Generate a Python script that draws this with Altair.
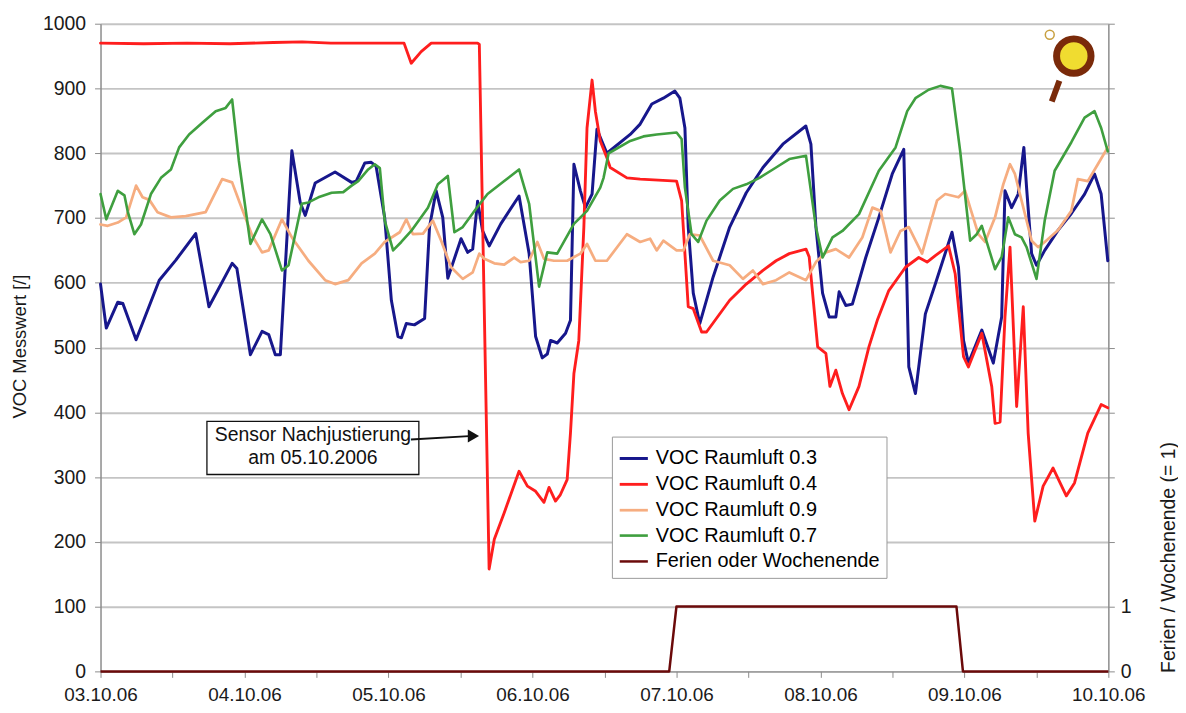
import altair as alt
import pandas as pd

# ---------------- data ----------------
tick_labels = ["03.10.06", "04.10.06", "05.10.06", "06.10.06",
               "07.10.06", "08.10.06", "09.10.06", "10.10.06"]

series_names = ["VOC Raumluft 0.3", "VOC Raumluft 0.4", "VOC Raumluft 0.9",
                "VOC Raumluft 0.7", "Ferien oder Wochenende"]
series_colors = ["#17178c", "#ff1e1e", "#f6ad80", "#3f9f3f", "#6b0a0a"]
series_widths = [3, 2.5, 1.3, 1.3, 3.5]

# days since 03.10.06 00:00
blue_days = [0.00, 0.04, 0.12, 0.155, 0.247, 0.408, 0.523, 0.661, 0.753, 0.914,
             0.947, 1.041, 1.122, 1.168, 1.214, 1.249, 1.329, 1.387, 1.422, 1.491,
             1.629, 1.744, 1.776, 1.836, 1.88, 1.914, 1.974, 2.02, 2.066, 2.09,
             2.124, 2.18, 2.251, 2.285, 2.331, 2.377, 2.412, 2.504, 2.55, 2.585,
             2.619, 2.654, 2.70, 2.78, 2.907, 2.977, 3.022, 3.068, 3.103, 3.126,
             3.172, 3.23, 3.264, 3.288, 3.333, 3.368, 3.414, 3.448, 3.517, 3.679,
             3.748, 3.829, 3.909, 3.989, 4.024, 4.059, 4.082, 4.117, 4.162, 4.255,
             4.37, 4.485, 4.601, 4.739, 4.899, 4.934, 4.969, 5.015, 5.061, 5.107,
             5.13, 5.176, 5.222, 5.315, 5.406, 5.499, 5.579, 5.614, 5.66, 5.729,
             5.798, 5.914, 5.959, 5.994, 6.028, 6.121, 6.201, 6.259, 6.282, 6.328,
             6.374, 6.413, 6.432, 6.467, 6.501, 6.558, 6.65, 6.743, 6.835, 6.904,
             6.95, 6.996]
blue_vals = [598, 530, 570, 568, 512, 604, 635, 676, 563, 630,
             622, 489, 525, 520, 489, 489, 804, 724, 704, 754,
             771, 755, 757, 785, 786, 780, 700, 573, 517, 515,
             537, 535, 545, 686, 742, 701, 607, 668, 647, 652,
             726, 680, 657, 691, 734, 645, 517, 484, 490, 511,
             507, 522, 542, 783, 742, 716, 737, 837, 800, 829,
             845, 876, 885, 896, 885, 839, 686, 584, 537, 609,
             686, 739, 778, 814, 842, 814, 686, 584, 547, 547,
             586, 565, 567, 639, 701, 768, 806, 470, 429, 552,
             598, 678, 624, 511, 476, 527, 476, 547, 742, 716,
             737, 809, 747, 645, 627, 650, 681, 707, 737, 768,
             737, 634]

red_days = [0.0, 0.3, 0.6, 0.9, 1.2, 1.4, 1.6, 1.8, 2.108, 2.158,
            2.227, 2.297, 2.619, 2.631, 2.699, 2.735, 2.804, 2.907, 2.965, 3.022,
            3.08, 3.115, 3.16, 3.192, 3.241, 3.264, 3.288, 3.322, 3.357, 3.379,
            3.414, 3.437, 3.46, 3.471, 3.517, 3.54, 3.656, 3.748, 4.001, 4.036,
            4.082, 4.117, 4.175, 4.209, 4.37, 4.485, 4.601, 4.692, 4.784, 4.90,
            4.922, 4.981, 5.038, 5.066, 5.107, 5.153, 5.199, 5.268, 5.337,
            5.395, 5.475, 5.591, 5.683, 5.741, 5.798, 5.89, 5.936, 5.994, 6.028,
            6.121, 6.19, 6.213, 6.248, 6.282, 6.317, 6.363, 6.409, 6.443, 6.489,
            6.547, 6.616, 6.708, 6.765, 6.857, 6.95, 6.996]
red_vals = [970, 969, 970, 969, 971, 972, 970, 970, 970, 939,
            957, 970, 970, 968, 158, 204, 245, 309, 286, 278,
            261, 284, 263, 272, 296, 368, 460, 511, 686, 839,
            913, 865, 834, 819, 793, 778, 762, 760, 757, 727,
            563, 560, 524, 524, 573, 598, 619, 634, 645, 652,
            640, 501, 491, 440, 465, 429, 404, 440, 501,
            542, 588, 624, 639, 632, 642, 657, 614, 486, 470,
            522, 440, 383, 385, 547, 655, 409, 563, 368, 232,
            286, 314, 271, 291, 368, 412, 407]

orange_days = [0.0, 0.05, 0.12, 0.178, 0.247, 0.292, 0.339, 0.396, 0.489, 0.592,
               0.73, 0.788, 0.845, 0.914, 0.961, 1.053, 1.122, 1.168, 1.26, 1.329,
               1.444, 1.56, 1.629, 1.721, 1.813, 1.905, 1.974, 2.078, 2.124, 2.17,
               2.24, 2.308, 2.366, 2.435, 2.516, 2.585, 2.631, 2.666, 2.735, 2.804,
               2.873, 2.918, 2.977, 3.034, 3.08, 3.149, 3.241, 3.333, 3.379, 3.437,
               3.517, 3.656, 3.748, 3.817, 3.863, 3.909, 4.001, 4.048, 4.093, 4.162,
               4.255, 4.37, 4.462, 4.531, 4.601, 4.692, 4.784, 4.90, 4.969, 5.038,
               5.107, 5.199, 5.291, 5.361, 5.418, 5.487, 5.556, 5.614, 5.706, 5.764,
               5.81, 5.867, 5.959, 6.005, 6.04, 6.097, 6.144, 6.213, 6.27, 6.317,
               6.351, 6.397, 6.467, 6.512, 6.558, 6.65, 6.743, 6.788, 6.857, 6.927,
               6.996]
orange_vals = [690, 688, 693, 701, 750, 732, 728, 709, 701, 703,
               709, 735, 760, 755, 727, 673, 647, 650, 698, 670,
               634, 604, 598, 604, 630, 645, 663, 678, 698, 675,
               676, 696, 665, 624, 606, 616, 645, 637, 630, 628,
               639, 632, 634, 663, 637, 634, 634, 645, 660, 634,
               634, 675, 663, 668, 650, 665, 650, 650, 675, 673,
               634, 627, 606, 619, 598, 604, 616, 604, 632, 647,
               652, 639, 670, 716, 711, 647, 680, 686, 645, 691,
               727, 737, 732, 742, 716, 675, 663, 701, 752, 783,
               768, 727, 665, 655, 663, 681, 711, 760, 757, 783,
               809]

green_days = [0.0, 0.04, 0.12, 0.166, 0.189, 0.235, 0.281, 0.35, 0.42, 0.489,
              0.546, 0.615, 0.707, 0.80, 0.869, 0.914, 0.961, 1.041, 1.122, 1.18,
              1.26, 1.306, 1.398, 1.444, 1.513, 1.605, 1.686, 1.744, 1.79, 1.859,
              1.905, 1.94, 1.974, 2.032, 2.089, 2.158, 2.274, 2.343, 2.412, 2.458,
              2.516, 2.607, 2.688, 2.804, 2.907, 2.977, 3.046, 3.103, 3.172, 3.288,
              3.379, 3.471, 3.494, 3.529, 3.679, 3.771, 3.863, 4.001, 4.036, 4.059,
              4.105, 4.151, 4.209, 4.301, 4.393, 4.485, 4.577, 4.692, 4.784, 4.90,
              4.969, 5.015, 5.084, 5.153, 5.268, 5.406, 5.522, 5.603, 5.66, 5.752,
              5.833, 5.914, 5.971, 6.04, 6.086, 6.121, 6.213, 6.259, 6.305, 6.351,
              6.397, 6.432, 6.501, 6.558, 6.627, 6.743, 6.835, 6.904, 6.95, 6.996]
green_vals = [737, 698, 742, 735, 710, 675, 690, 737, 762, 775,
              809, 829, 847, 865, 870, 883, 788, 660, 698, 675,
              619, 627, 722, 724, 732, 739, 740, 750, 757, 775,
              783, 777, 696, 650, 663, 680, 716, 752, 765, 678,
              686, 714, 737, 757, 775, 722, 594, 647, 645, 691,
              711, 747, 762, 800, 819, 826, 829, 832, 822, 747,
              675, 663, 696, 727, 745, 752, 762, 778, 791, 796,
              686, 639, 670, 680, 706, 773, 809, 865, 885, 898,
              904, 900, 803, 665, 675, 688, 621, 640, 701, 675,
              670, 655, 606, 696, 773, 817, 855, 865, 839, 803]

ferien_days = [0.0, 3.95, 4.0, 5.945, 5.99, 7.0]
ferien_vals = [0, 0, 1, 1, 0, 0]

# annotation text / placement
note_lines = ["Sensor Nachjustierung", "am 05.10.2006"]
note_line_y = [365.5, 330]
note_box = dict(x=0.739, x2=2.211, y=304, y2=386)
arrow = dict(x=2.156, x2=2.59, y=358, y2=363.5)

FONT = "Liberation Sans"

# ---------------- build ----------------
voc = [(series_names[0], blue_days, blue_vals),
       (series_names[1], red_days, red_vals),
       (series_names[2], orange_days, orange_vals),
       (series_names[3], green_days, green_vals)]

js_labels = "[" + ",".join("'" + t + "'" for t in tick_labels) + "]"
x_axis = alt.Axis(values=[i / 2 for i in range(0, 15)],
                  labelExpr="datum.value % 1 == 0 ? " + js_labels + "[datum.value] : ''",
                  grid=False, tickSize=6, labelPadding=8, labelFontSize=19,
                  labelOverlap=False, labelFlush=False, title=None,
                  domainColor="#8c8c8c", tickColor="#8c8c8c")
x_scale = alt.Scale(domain=[0, 7], nice=False, zero=False)
x_enc = alt.X("day:Q", scale=x_scale, axis=x_axis)

y_scale = alt.Scale(domain=[0, 1000], nice=False, zero=False)
y_axis = alt.Axis(values=list(range(0, 1001, 100)), format="d", grid=True,
                  gridColor="#c4c4c4", gridWidth=2, tickSize=6, labelPadding=9,
                  labelFontSize=19.5,
                  title="VOC Messwert [/]", titleX=-81, titleY=324, titleAngle=270,
                  titleAlign="center", titleBaseline="middle", titleFontSize=18.5,
                  domainColor="#8c8c8c", tickColor="#8c8c8c", domainWidth=1.5)

legend = alt.Legend(orient="none", legendX=514, legendY=415, title=None,
                    symbolType="stroke", symbolSize=800, labelFontSize=20,
                    labelFont=FONT, padding=6, strokeColor="#9a9a9a",
                    fillColor="white", rowPadding=0, labelOffset=6, labelLimit=400)
color_enc = alt.Color("series:N", scale=alt.Scale(domain=series_names, range=series_colors),
                      legend=legend)
width_enc = alt.StrokeWidth("series:N", scale=alt.Scale(domain=series_names, range=series_widths),
                            legend=legend)

left_layers = []
for name, d, v in voc:
    df = pd.DataFrame({"day": d, "value": v, "series": name})
    left_layers.append(
        alt.Chart(df).mark_line(strokeJoin="round", strokeCap="round").encode(
            x=x_enc,
            y=alt.Y("value:Q", scale=y_scale, axis=y_axis),
            color=color_enc, strokeWidth=width_enc)
    )

# annotation box + text + arrow
box_df = pd.DataFrame([note_box])
left_layers.append(
    alt.Chart(box_df).mark_rect(fill="white", stroke="#111111", strokeWidth=1.3).encode(
        x=alt.X("x:Q", scale=x_scale, axis=x_axis), x2="x2:Q",
        y=alt.Y("y:Q", scale=y_scale, axis=y_axis), y2="y2:Q")
)
txt_df = pd.DataFrame({"day": [(note_box["x"] + note_box["x2"]) / 2] * 2,
                       "value": note_line_y, "label": note_lines})
left_layers.append(
    alt.Chart(txt_df).mark_text(font=FONT, fontSize=19.5, color="#111111").encode(
        x=x_enc, y=alt.Y("value:Q", scale=y_scale, axis=y_axis), text="label:N")
)
arr_df = pd.DataFrame([arrow])
left_layers.append(
    alt.Chart(arr_df).mark_rule(color="#111111", strokeWidth=1.8).encode(
        x=alt.X("x:Q", scale=x_scale, axis=x_axis), x2="x2:Q",
        y=alt.Y("y:Q", scale=y_scale, axis=y_axis), y2="y2:Q")
)
head_df = pd.DataFrame({"day": [arrow["x2"]], "value": [arrow["y2"]]})
left_layers.append(
    alt.Chart(head_df).mark_point(shape="triangle-right", filled=True, color="#111111",
                                  size=170, opacity=1).encode(
        x=x_enc, y=alt.Y("value:Q", scale=y_scale, axis=y_axis))
)

# small logo in the top right corner
logo_df = pd.DataFrame({"day": [6.76], "value": [950]})
left_layers.append(
    alt.Chart(logo_df).mark_point(shape="circle", filled=True, fill="#f0dc30",
                                  stroke="#7a2a0a", strokeWidth=7, size=1200, opacity=1).encode(
        x=x_enc, y=alt.Y("value:Q", scale=y_scale, axis=y_axis))
)
stem_df = pd.DataFrame([dict(x=6.66, x2=6.607, y=912, y2=880)])
left_layers.append(
    alt.Chart(stem_df).mark_rule(color="#7a2a0a", strokeWidth=6).encode(
        x=alt.X("x:Q", scale=x_scale, axis=x_axis), x2="x2:Q",
        y=alt.Y("y:Q", scale=y_scale, axis=y_axis), y2="y2:Q")
)
dot_df = pd.DataFrame({"day": [6.593], "value": [983]})
left_layers.append(
    alt.Chart(dot_df).mark_point(shape="circle", filled=False, stroke="#c8a040",
                                 strokeWidth=1.5, size=80, opacity=1).encode(
        x=x_enc, y=alt.Y("value:Q", scale=y_scale, axis=y_axis))
)

left = alt.layer(*left_layers)

ferien_df = pd.DataFrame({"day": ferien_days, "value": ferien_vals, "series": series_names[4]})
right_axis = alt.Axis(orient="right", values=list(range(0, 11)),
                      labelExpr="datum.value <= 1 ? datum.label : ''",
                      grid=False, tickSize=6, labelPadding=6, labelFontSize=19.5,
                      title="Ferien / Wochenende (= 1)", titleX=60, titleY=536,
                      titleAngle=270, titleAlign="center", titleBaseline="middle",
                      titleFontSize=19.5, domainColor="#8c8c8c", tickColor="#8c8c8c",
                      domainWidth=1.5)
right = alt.Chart(ferien_df).mark_line(strokeJoin="round").encode(
    x=x_enc,
    y=alt.Y("value:Q", scale=alt.Scale(domain=[0, 10], nice=False, zero=False), axis=right_axis),
    color=color_enc, strokeWidth=width_enc)

chart = alt.layer(left, right).resolve_scale(y="independent").properties(
    width=1013, height=651,
    autosize=alt.AutoSizeParams(type="none"),
    padding={"left": 93, "top": 14, "right": 70, "bottom": 32},
    background="white",
).configure_view(stroke=None).configure_axis(
    labelFont=FONT, titleFont=FONT, labelColor="#1a1a1a", titleColor="#1a1a1a",
    titleFontWeight="normal",
)

chart.save("out.html", embed_options={"renderer": "svg", "actions": False})
